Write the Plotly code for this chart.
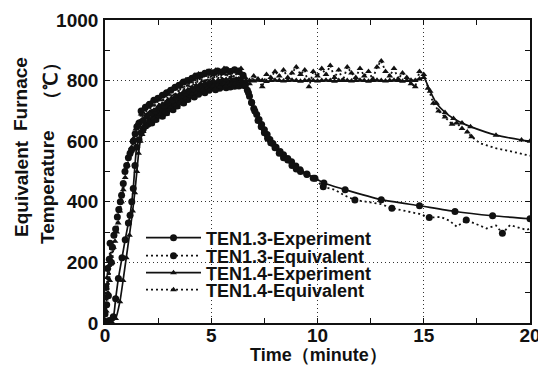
import plotly.graph_objects as go

# ---------------- data ----------------
ten13_exp_t = [0, 0.2, 0.39, 0.5, 0.63, 0.8, 0.95, 1.1, 1.18, 1.26, 1.33, 1.41, 1.49,
               1.6, 1.7, 1.8, 1.9, 2.0, 2.1, 2.2, 2.3, 2.4, 2.5, 2.6, 2.7, 2.8, 2.9,
               3.0, 3.1, 3.2, 3.3, 3.4, 3.5, 3.6, 3.7, 3.8, 3.9, 4.0, 4.1, 4.2, 4.3,
               4.4, 4.5, 4.6, 4.7, 4.8, 4.9, 5.0, 5.1, 5.2, 5.3, 5.4, 5.5, 5.6, 5.7,
               5.8, 5.9, 6.0, 6.1, 6.2, 6.3, 6.4, 6.5, 6.6, 6.7, 6.8, 6.9, 7.0, 7.14,
               7.25, 7.37, 7.5, 7.63, 7.76, 7.9, 8.05, 8.24, 8.4, 8.6, 8.78, 8.98,
               9.18, 9.5, 9.88, 10.3, 11.3, 13.0, 14.8, 16.47, 18.24, 20.0]
ten13_exp_v = [5, 8, 21, 80, 147, 215, 275, 330, 356, 400, 444, 520, 580,
               605, 628, 640, 650, 655, 668, 660, 680, 672, 686, 692, 682, 700, 694,
               708, 716, 704, 722, 716, 730, 738, 726, 745, 738, 752, 756, 746, 762,
               755, 766, 770, 760, 773, 768, 776, 779, 770, 781, 775, 782, 784, 776,
               785, 779, 786, 781, 788, 782, 789, 785, 782, 768, 748, 728, 708, 688,
               672, 655, 638, 622, 606, 592, 580, 566, 555, 543, 532, 518,
               506, 492, 478, 462, 440, 407, 387, 368, 354, 344]

ten13_eq_t = [0, 0.04, 0.08, 0.12, 0.16, 0.2, 0.24, 0.3, 0.35, 0.42, 0.5, 0.58, 0.65,
              0.72, 0.78, 0.86, 0.94, 1.02, 1.1, 1.18, 1.25, 1.33, 1.42, 1.5,
              1.6, 1.7, 1.8, 1.9, 2.0, 2.1, 2.2, 2.3, 2.4, 2.5, 2.6, 2.7, 2.8, 2.9,
              3.0, 3.1, 3.2, 3.3, 3.4, 3.5, 3.6, 3.7, 3.8, 3.9, 4.0, 4.1, 4.2, 4.3,
              4.4, 4.5, 4.6, 4.7, 4.8, 4.9, 5.0, 5.1, 5.2, 5.3, 5.4, 5.5, 5.6, 5.7,
              5.8, 5.9, 6.0, 6.1, 6.2, 6.3, 6.4, 6.5, 6.6, 6.75, 6.9, 7.05, 7.2,
              7.35, 7.5, 7.65, 7.8, 8.0, 8.2, 8.4, 8.6, 8.8, 9.0, 9.2, 9.5, 9.8,
              10.27, 10.8, 11.3, 11.76, 12.5, 13.0, 13.5, 14.2, 14.8, 15.26, 15.8,
              16.2, 16.55, 17.0, 17.4, 17.96, 18.4, 18.7, 19.06, 19.5, 19.85, 20.0]
ten13_eq_v = [30, 120, 60, 180, 90, 210, 263, 200, 250, 290, 310, 350, 375,
              400, 422, 460, 500, 520, 545, 560, 571, 600, 625, 648,
              660, 700, 668, 712, 684, 722, 694, 735, 700, 742, 712, 752, 718, 760,
              730, 768, 736, 778, 744, 785, 750, 795, 758, 800, 765, 808, 770, 815,
              776, 818, 782, 824, 786, 828, 790, 826, 788, 832, 794, 828, 796, 836,
              792, 830, 798, 836, 800, 832, 795, 818, 790, 760, 728, 700, 668,
              648, 628, 610, 595, 578, 560, 545, 538, 520, 508, 500, 490, 478,
              450, 440, 420, 406, 398, 392, 379, 368, 360, 348, 350,
              338, 318, 340, 328, 312, 322, 296, 323, 315, 307, 312]
ten13_eq_dense_until = 10.3
ten13_eq_symbol_times = [11.76, 13.5, 15.26, 17.0, 18.7]

ten14_exp_t = [0, 0.3, 0.5, 0.7, 0.85, 1.0, 1.15, 1.3, 1.4, 1.5, 1.58, 1.66, 1.75,
               1.8, 1.9, 2.0, 2.1, 2.2, 2.3, 2.4, 2.5, 2.6, 2.7, 2.8, 2.9,
               3.0, 3.1, 3.2, 3.3, 3.4, 3.5, 3.6, 3.7, 3.8, 3.9, 4.0, 4.1, 4.2, 4.3,
               4.4, 4.5, 4.6, 4.7, 4.8, 4.9, 5.0, 5.1, 5.2, 5.3, 5.4, 5.5, 5.6, 5.7,
               5.8, 5.9, 6.0, 6.1, 6.2, 6.3, 6.4, 6.5,
               6.6, 6.8, 7.0, 7.2, 7.4, 7.6, 7.8, 8.0, 8.2, 8.4, 8.6, 8.8, 9.0, 9.2,
               9.4, 9.6, 9.8, 10.0, 10.2, 10.4, 10.6, 10.8, 11.0, 11.2, 11.4, 11.6,
               11.8, 12.0, 12.2, 12.4, 12.6, 12.8, 13.0, 13.2, 13.4, 13.6, 13.8,
               14.0, 14.2, 14.4, 14.6, 14.8, 15.0, 15.3, 15.6, 16.0, 16.4, 16.8,
               17.2, 18.4, 19.6, 20.0]
ten14_exp_v = [0, 5, 15, 70, 140, 215, 290, 370, 430, 500, 560, 600, 622,
               632, 645, 652, 665, 658, 676, 668, 685, 690, 680, 698, 690,
               706, 712, 702, 720, 712, 728, 734, 724, 742, 734, 750, 755, 745, 760,
               754, 766, 770, 762, 775, 768, 778, 782, 774, 786, 780, 788, 790, 783,
               792, 787, 794, 790, 797, 793, 798, 796,
               798, 800, 799, 801, 800, 797, 800, 801, 800, 799, 800, 801, 800, 798,
               800, 801, 800, 799, 800, 801, 800, 798, 800, 801, 800, 799,
               800, 801, 800, 798, 800, 801, 800, 799, 800, 801, 800,
               798, 800, 801, 800, 805, 810, 765, 725, 695, 675, 660,
               648, 620, 604, 600]

ten14_eq_t = [0, 0.03, 0.06, 0.1, 0.14, 0.18, 0.22, 0.27, 0.33, 0.4, 0.47, 0.55, 0.62,
              0.7, 0.78, 0.86, 0.95, 1.05, 1.15, 1.25, 1.35, 1.45, 1.55,
              1.6, 1.7, 1.8, 1.9, 2.0, 2.1, 2.2, 2.3, 2.4, 2.5, 2.6, 2.7, 2.8, 2.9,
              3.0, 3.1, 3.2, 3.3, 3.4, 3.5, 3.6, 3.7, 3.8, 3.9, 4.0, 4.1, 4.2, 4.3,
              4.4, 4.5, 4.6, 4.7, 4.8, 4.9, 5.0, 5.1, 5.2, 5.3, 5.4, 5.5, 5.6, 5.7,
              5.8, 5.9, 6.0, 6.1, 6.2, 6.3, 6.4, 6.5,
              6.6, 6.8, 7.0, 7.2, 7.4, 7.6, 7.8, 8.0, 8.2, 8.4, 8.6, 8.8, 9.0, 9.2,
              9.4, 9.6, 9.8, 10.0, 10.2, 10.4, 10.6, 10.8, 11.0, 11.2, 11.4, 11.6,
              11.8, 12.0, 12.2, 12.4, 12.6, 12.8, 13.0, 13.2, 13.4, 13.6, 13.8,
              14.0, 14.2, 14.4, 14.6, 14.8, 15.0, 15.2, 15.45, 15.7, 16.0, 16.33,
              16.55, 16.8, 17.05, 17.25, 17.65, 18.43, 19.2, 19.9, 20.0]
ten14_eq_v = [10, 80, 40, 150, 100, 190, 140, 220, 200, 250, 270, 300, 330,
              370, 400, 440, 480, 520, 555, 580, 610, 640, 660,
              650, 690, 705, 680, 722, 695, 730, 702, 742, 712, 748, 722, 758, 730,
              768, 738, 776, 748, 786, 755, 796, 762, 802, 770, 808, 778, 818, 782,
              822, 790, 818, 792, 830, 796, 822, 800, 834, 798, 826, 802, 840, 804,
              828, 808, 836, 802, 830, 806, 840, 810,
              810, 790, 815, 805, 780, 820, 810, 830, 815, 835, 810, 825, 845, 820,
              835, 780, 830, 815, 840, 820, 850, 810, 835, 800, 845, 825,
              810, 840, 815, 830, 805, 845, 865, 830, 815, 840, 805,
              825, 810, 790, 780, 830, 820, 775, 725, 700, 680, 656,
              660, 642, 630, 615, 593, 576, 565, 554, 552]
ten14_eq_dense_until = 17.3

series_names = ["TEN1.3-Experiment", "TEN1.3-Equivalent",
                "TEN1.4-Experiment", "TEN1.4-Equivalent"]

x_tick_vals = [0, 5, 10, 15, 20]
y_tick_vals = [0, 200, 400, 600, 800, 1000]

# ---------------- styling ----------------
FONT = "Liberation Sans"
INK = "#111111"
CIRCLE = dict(symbol="circle", size=7, color=INK)
TRI = dict(symbol="triangle-up", size=6, color=INK)
SOLID = dict(color=INK, width=1.7)
DOTTED = dict(color=INK, width=1.8, dash="2px,3px")

# page places the figure 8px in from the top-left corner
OFF = 8
W, H = 546 - OFF, 371 - OFF
# plot area in reference-picture pixels
REF_L, REF_R, REF_T, REF_B = 105, 530, 20, 323
PLOT_L, PLOT_R, PLOT_T, PLOT_B = REF_L - OFF, REF_R - OFF, REF_T - OFF, REF_B - OFF


def pxx(xref_px):
    return (xref_px - REF_L) / (REF_R - REF_L)


def pxy(yref_px):
    return (REF_B - yref_px) / (REF_B - REF_T)


def symbol_subset(t, v, dense_until, extra_times=()):
    xs, ys = [], []
    for ti, vi in zip(t, v):
        if ti <= dense_until or ti in extra_times:
            xs.append(ti)
            ys.append(vi)
    return xs, ys


fig = go.Figure()

fig.add_trace(go.Scatter(x=ten13_exp_t, y=ten13_exp_v, mode="lines+markers",
                         line=dict(**SOLID, shape="spline", smoothing=0.6),
                         marker=CIRCLE, showlegend=False))
fig.add_trace(go.Scatter(x=ten13_eq_t, y=ten13_eq_v, mode="lines",
                         line=DOTTED, showlegend=False))
mx, my = symbol_subset(ten13_eq_t, ten13_eq_v, ten13_eq_dense_until, ten13_eq_symbol_times)
fig.add_trace(go.Scatter(x=mx, y=my, mode="markers", marker=CIRCLE, showlegend=False))
fig.add_trace(go.Scatter(x=ten14_exp_t, y=ten14_exp_v, mode="lines+markers",
                         line=dict(**SOLID, shape="spline", smoothing=0.6),
                         marker=TRI, showlegend=False))
fig.add_trace(go.Scatter(x=ten14_eq_t, y=ten14_eq_v, mode="lines",
                         line=DOTTED, showlegend=False))
mx, my = symbol_subset(ten14_eq_t, ten14_eq_v, ten14_eq_dense_until)
fig.add_trace(go.Scatter(x=mx, y=my, mode="markers", marker=TRI, showlegend=False))

legend_styles = [(SOLID, CIRCLE), (DOTTED, CIRCLE), (SOLID, TRI), (DOTTED, TRI)]
legend_ids = ["legend", "legend2", "legend3", "legend4"]
legend_rows_ref = [238, 256, 273, 290]

legend_layout = {}
for name, (ln, mk), lid, ypx in zip(series_names, legend_styles, legend_ids, legend_rows_ref):
    fig.add_trace(go.Scatter(x=[None], y=[None], mode="lines+markers", name=name,
                             line=ln, marker=mk, legend=lid))
    legend_layout[lid] = dict(
        x=pxx(141), y=pxy(ypx),
        xanchor="left", yanchor="middle",
        bgcolor="rgba(0,0,0,0)", borderwidth=0,
        itemwidth=55,
        font=dict(family=FONT, size=18, color=INK, weight="bold"),
    )

axis_common = dict(
    showline=True, linecolor=INK, linewidth=1.6, mirror="ticks",
    ticks="inside", ticklen=5, tickwidth=1.2, tickcolor=INK,
    showgrid=True, gridcolor="#333333", gridwidth=1, griddash="1px,3px",
    zeroline=False,
    tickfont=dict(family=FONT, size=19, color=INK, weight="bold"),
)

fig.update_layout(
    width=W, height=H,
    margin=dict(l=PLOT_L, r=W - PLOT_R, t=PLOT_T, b=H - PLOT_B, autoexpand=False),
    paper_bgcolor="white", plot_bgcolor="white",
    xaxis=dict(range=[0, 20], tickvals=x_tick_vals, ticklabelstandoff=-6,
               minor=dict(dtick=2.5, ticks="inside", ticklen=5, tickcolor=INK, showgrid=False),
               **axis_common),
    yaxis=dict(range=[0, 1000], tickvals=y_tick_vals, ticklabelstandoff=1,
               minor=dict(dtick=100, ticks="inside", ticklen=5, tickcolor=INK, showgrid=False),
               **axis_common),
    **legend_layout,
)

ytitle_parts = [("Equivalent", 21, 189), ("Furnace", 21, 94),
                ("Temperature", 47, 187), ("（℃）", 50, 81)]
for txt, xpx, ypx in ytitle_parts:
    fig.add_annotation(text=txt, x=pxx(xpx), y=pxy(ypx), xref="paper", yref="paper",
                       textangle=-90, showarrow=False, xanchor="center", yanchor="middle",
                       font=dict(family=FONT, size=19, color=INK, weight="bold"))

fig.add_annotation(text="Time（minute）", x=pxx(318), y=pxy(355), xref="paper", yref="paper",
                   showarrow=False, xanchor="center", yanchor="middle",
                   font=dict(family=FONT, size=18, color=INK, weight="bold"))

fig.write_html("out.html")
